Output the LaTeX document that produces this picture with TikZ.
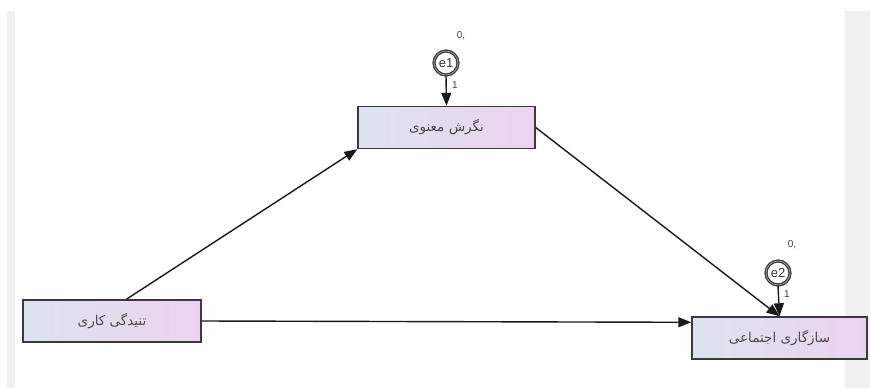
\documentclass[tikz,border=0pt]{standalone}
\usepackage{fontspec}
\setmainfont{Liberation Sans}
\newfontfamily\arabicfont[Script=Arabic]{DejaVu Sans}
\TeXXeTstate=1
\usetikzlibrary{arrows.meta,calc}
\definecolor{boxleft}{HTML}{DDE3EE}
\definecolor{boxright}{HTML}{EBD3F0}
\definecolor{strip}{HTML}{F0F0F0}
\definecolor{edge}{HTML}{3A3A3A}
\begin{document}
\begin{tikzpicture}[x=1pt,y=-1pt,
  varbox/.style={draw=edge,line width=1.4pt,left color=boxleft,right color=boxright,
    minimum height=42pt,inner sep=0pt,font=\arabicfont\fontsize{13.5}{15}\selectfont,text=black!70},
  errc/.style={circle,draw=edge,line width=1.3pt,double=black!30,double distance=0.6pt,fill=white,
    minimum size=24pt,inner sep=0pt,font=\fontsize{13}{15}\selectfont,text=black!80},
  path/.style={draw=black!90,line width=1.4pt,-{Triangle[length=13pt,width=10pt]}},
  small/.style={font=\fontsize{10}{12}\selectfont,text=black!75,inner sep=0pt}]
\useasboundingbox (0,0) rectangle (870,388);
\fill[strip] (7,11) rectangle (15,388);
\fill[strip] (845,11) rectangle (870,388);
\node[varbox,minimum width=178pt] (A) at (112,321) {\beginR تنیدگی کاری\endR};
\node[varbox,minimum width=177pt] (M) at (446.5,127.5) {\beginR نگرش معنوی\endR};
\node[varbox,minimum width=175pt] (Y) at (779.5,338) {\beginR سازگاری اجتماعی\endR};
\node[errc] (e1) at (446,63) {e1};
\node[errc] (e2) at (778,273) {e2};
\node[small] (z1) at (461,36) {0,};
\node[small] (z2) at (792,245) {0,};
\node[small] (o1) at (455,85) {1};
\node[small] (o2) at (787,294) {1};
\draw[path] ($(A.north west)+(104,0)$) -- (M.south west);
\draw[path] (M.east) -- (Y.north);
\draw[path] (A.east) -- ($(Y.north west)+(0,6)$);
\draw[path] (e1.south) -- (M.north);
\draw[path] (e2.south) -- (Y.north);
\end{tikzpicture}
\end{document}
